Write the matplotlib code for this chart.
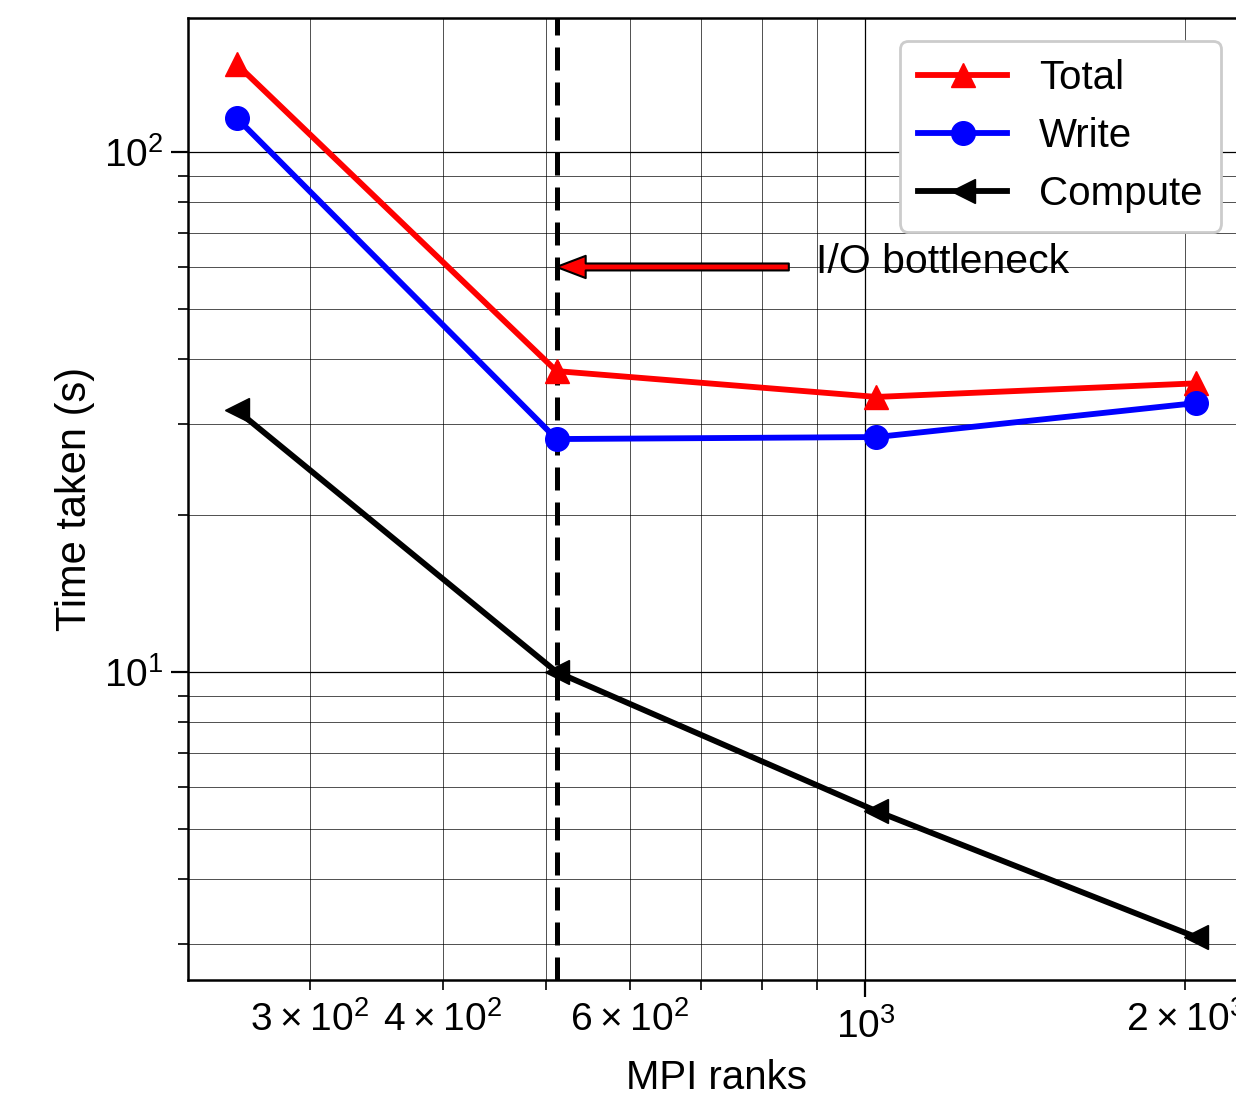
import matplotlib
matplotlib.use("Agg")
from matplotlib import pyplot as plt
from matplotlib import font_manager

# data
ranks = [256, 512, 1024, 2048]
total = [147.6, 37.9, 33.8, 35.9]
write = [116.3, 28.05, 28.3, 32.9]
compute = [31.9, 10.0, 5.40, 3.09]

bottleneck_x = 512
bottleneck_y = 60.1
label_text = "I/O bottleneck"

plt.rcParams['font.family'] = ['Liberation Sans', 'DejaVu Sans']
plt.rcParams['mathtext.fontset'] = 'custom'
plt.rcParams['mathtext.rm'] = 'Liberation Sans'

names = {f.name for f in font_manager.fontManager.ttflist}
narrow = 'Liberation Sans Narrow' if 'Liberation Sans Narrow' in names else 'Liberation Sans'

fig = plt.figure(figsize=(12.36, 10.97), dpi=100)
ax = fig.add_axes([0.1521, 0.1067, 0.8552, 0.8769])

ax.set_xscale('log')
ax.set_yscale('log')

ax.plot(ranks, total, color='red', marker='^', lw=4.2, ms=17, label='Total', zorder=3)
ax.plot(ranks, write, color='blue', marker='o', lw=4.2, ms=17, label='Write', zorder=3)
ax.plot(ranks, compute, color='black', marker='<', lw=4.2, ms=17, label='Compute', zorder=3)

ax.axvline(bottleneck_x, color='black', lw=3.6, dashes=(4.6, 2.4), zorder=2.5)

ax.annotate("", xy=(bottleneck_x, bottleneck_y), xytext=(847, bottleneck_y),
            arrowprops=dict(facecolor='red', edgecolor='black', lw=1.5,
                            width=5, headwidth=16, headlength=21, shrink=0.0),
            zorder=4)
ax.text(899, 61.4, label_text, fontsize=29.5, va='center', ha='left')

ax.set_xlim(230.4, 2276)
ax.set_ylim(2.557, 181)

ax.grid(True, which='major', color='black', lw=0.9)
ax.grid(True, which='minor', color='black', lw=0.6, alpha=0.8)

for s in ax.spines.values():
    s.set_linewidth(1.8)

ax.tick_params(axis='both', which='major', length=12, width=1.6, direction='out')
ax.tick_params(axis='both', which='minor', length=7, width=1.2, direction='out')
ax.tick_params(axis='y', which='both', labelsize=28, pad=6)
ax.tick_params(axis='x', which='both', labelsize=28, pad=8)
for lab in ax.get_xticklabels(minor=True) + ax.get_xticklabels():
    lab.set_family(narrow)

ax.set_xlabel('MPI ranks', fontsize=29, family=narrow, labelpad=10)
ax.set_ylabel('Time taken (s)', fontsize=30, labelpad=6)

leg = ax.legend(loc='upper right', bbox_to_anchor=(1.004, 0.981), bbox_transform=fig.transFigure,
                fontsize=29, handlelength=2.2, borderpad=0.45, labelspacing=0.5,
                fancybox=True, framealpha=1.0, edgecolor='#cccccc')
leg.get_frame().set_linewidth(2)

fig.savefig('out.png', dpi=100)
